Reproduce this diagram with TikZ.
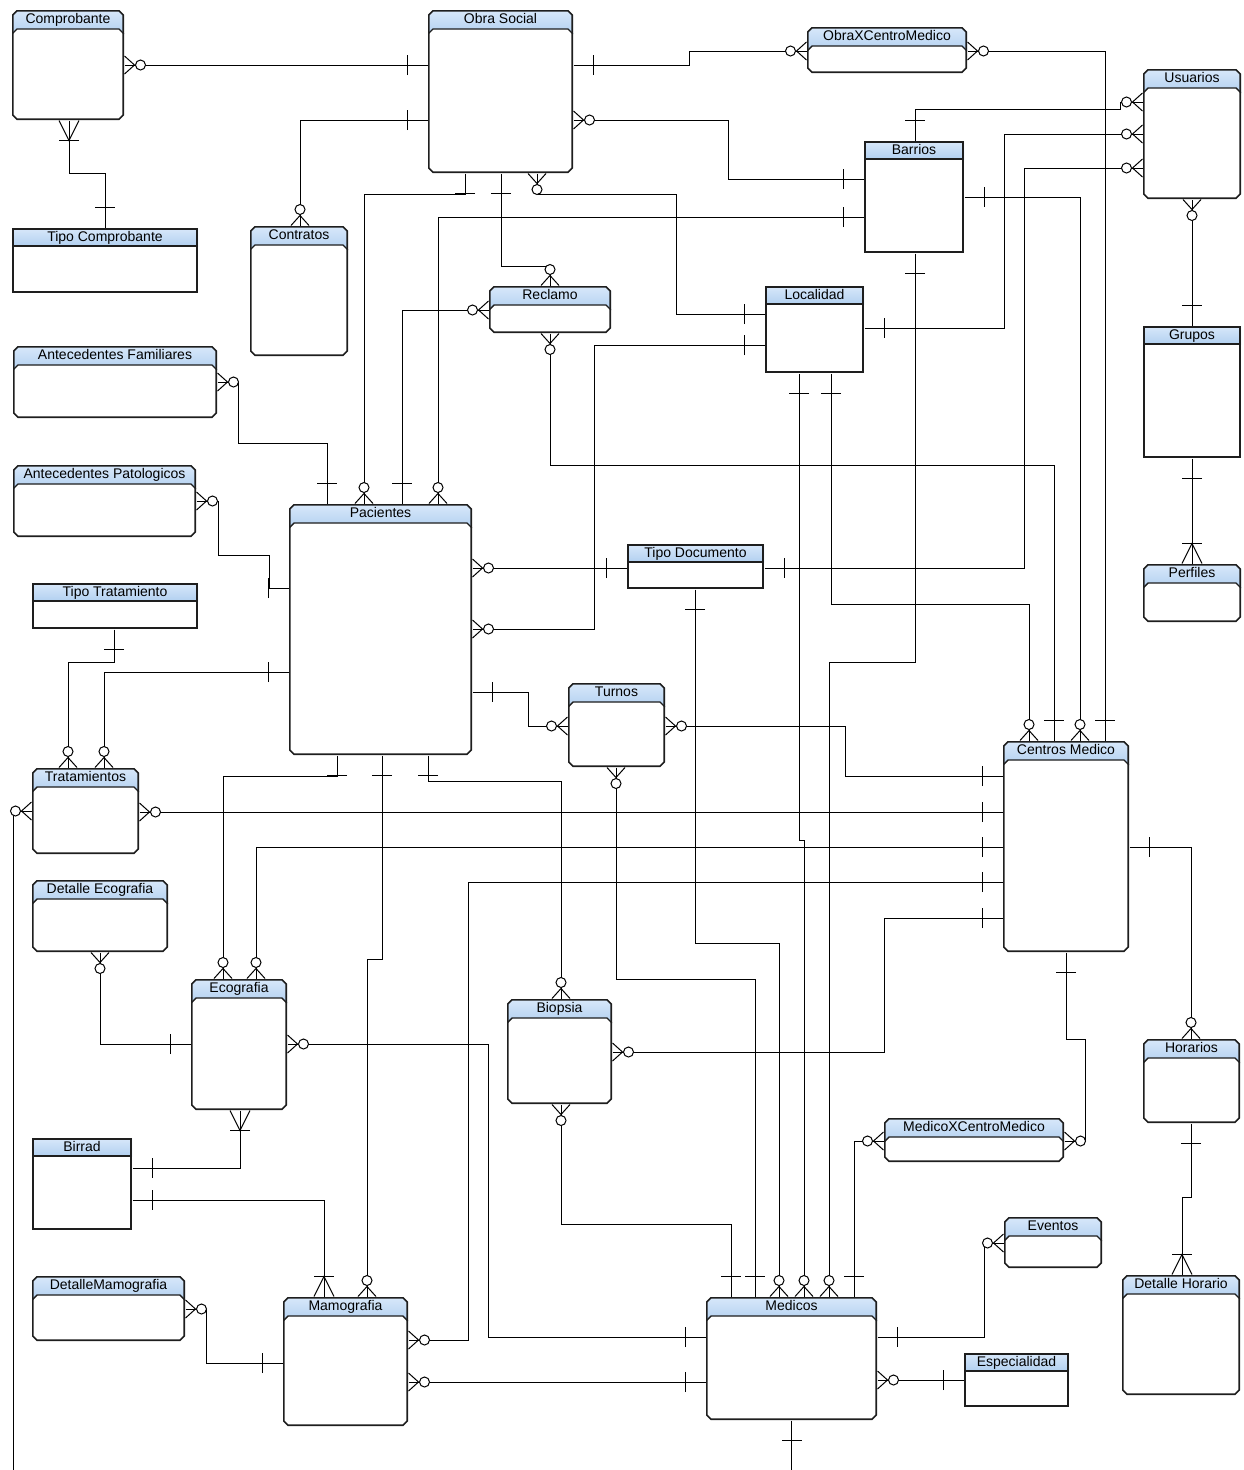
\documentclass[tikz,border=0pt]{standalone}
\usepackage{fontspec}
\setmainfont{Liberation Sans}
\usepackage{tikz}
\definecolor{headtop}{RGB}{216,232,250}
\definecolor{headbot}{RGB}{178,208,240}
\definecolor{edge}{RGB}{30,30,30}

\tikzset{
  wh/.style 2 args={minimum width=#1pt, minimum height=#2pt},
  corners/.style={
    insert path={
      coordinate (pnw) at (path picture bounding box.north west)
      coordinate (pne) at (path picture bounding box.north east)
      coordinate (psw) at (path picture bounding box.south west)
      coordinate (pse) at (path picture bounding box.south east)}},
  rbox/.style={rectangle, inner sep=0pt,
    path picture={
      \path[corners];
      \fill[white] ([xshift=5pt]pnw) -- ([xshift=-5pt]pne) -- ([yshift=-5pt]pne)
        -- ([yshift=5pt]pse) -- ([xshift=-5pt]pse) -- ([xshift=5pt]psw)
        -- ([yshift=5pt]psw) -- ([yshift=-5pt]pnw) -- cycle;
      \shade[top color=headtop, bottom color=headbot]
        ([xshift=5pt]pnw) -- ([xshift=-5pt]pne) -- ([yshift=-5pt]pne)
        -- ([yshift=-24pt]pne) -- ([xshift=-5pt,yshift=-19pt]pne)
        -- ([xshift=5pt,yshift=-19pt]pnw) -- ([yshift=-24pt]pnw)
        -- ([yshift=-5pt]pnw) -- cycle;
      \draw[edge, line width=1.6pt] ([xshift=5pt,yshift=-.8pt]pnw)
        -- ([xshift=-5pt,yshift=-.8pt]pne) -- ([xshift=-.8pt,yshift=-5pt]pne)
        -- ([xshift=-.8pt,yshift=5pt]pse) -- ([xshift=-5pt,yshift=.8pt]pse)
        -- ([xshift=5pt,yshift=.8pt]psw) -- ([xshift=.8pt,yshift=5pt]psw)
        -- ([xshift=.8pt,yshift=-5pt]pnw) -- cycle;
      \draw[edge, line width=1.4pt] ([yshift=-24pt]pnw) -- ([xshift=5pt,yshift=-19pt]pnw)
        -- ([xshift=-5pt,yshift=-19pt]pne) -- ([yshift=-24pt]pne);
    }},
  sbox/.style={rectangle, inner sep=0pt,
    path picture={
      \path[corners];
      \fill[white] (pnw) rectangle (pse);
      \shade[top color=headtop, bottom color=headbot]
        (pnw) rectangle ([yshift=-18pt]pne);
      \draw[edge, line width=1.6pt] ([xshift=.8pt,yshift=-.8pt]pnw)
        rectangle ([xshift=-.8pt,yshift=.8pt]pse);
      \draw[edge, line width=1.4pt] ([yshift=-18pt]pnw) -- ([yshift=-18pt]pne);
    }},
  ttl/.style={anchor=base, yshift=-13.5pt, inner sep=0pt,
    font=\fontsize{14}{16}\selectfont},
  one/.pic={\draw (20,-10) -- (20,10);},
  zmany/.pic={\draw (0,-9) -- (10,0) -- (0,9);
    \draw[fill=white] (16,0) circle[radius=5pt];},
  omany/.pic={\draw (0,-10) -- (20,0) -- (0,10); \draw (20,-10) -- (20,10);}
}

\begin{document}
\begin{tikzpicture}[x=1pt, y=-1pt, line width=1pt]
  \useasboundingbox (0,0) rectangle (1243,1470);

  % Entities, top row
  \node[rbox, wh={112}{110}] (cmp) at (68,65) {};
  \node[ttl] (cmp-t) at (cmp.north) {Comprobante};
  \node[rbox, wh={145}{163}] (obs) at (500.5,91.5) {};
  \node[ttl] (obs-t) at (obs.north) {Obra Social};
  \node[rbox, wh={160}{46}] (oxc) at (887,50) {};
  \node[ttl] (oxc-t) at (oxc.north) {ObraXCentroMedico};
  \node[rbox, wh={98}{130}] (usu) at (1192,134) {};
  \node[ttl] (usu-t) at (usu.north) {Usuarios};
  \node[sbox, wh={100}{112}] (brr) at (914,197) {};
  \node[ttl] (brr-t) at (brr.north) {Barrios};
  \node[sbox, wh={99}{87}] (loc) at (814.5,329.5) {};
  \node[ttl] (loc-t) at (loc.north) {Localidad};
  \node[sbox, wh={186}{65}] (tcp) at (105,260.5) {};
  \node[ttl] (tcp-t) at (tcp.north) {Tipo Comprobante};
  \node[rbox, wh={98}{130}] (con) at (299,291) {};
  \node[ttl] (con-t) at (con.north) {Contratos};
  \node[rbox, wh={122}{47}] (rec) at (550,309.5) {};
  \node[ttl] (rec-t) at (rec.north) {Reclamo};
  \node[sbox, wh={98}{132}] (grp) at (1192,392) {};
  \node[ttl] (grp-t) at (grp.north) {Grupos};

  % Entities, middle
  \node[rbox, wh={204}{72}] (afm) at (115,382) {};
  \node[ttl] (afm-t) at (afm.north) {Antecedentes Familiares};
  \node[rbox, wh={183}{72}] (apt) at (104.5,501) {};
  \node[ttl] (apt-t) at (apt.north) {Antecedentes Patologicos};
  \node[sbox, wh={166}{46}] (ttr) at (115,606) {};
  \node[ttl] (ttr-t) at (ttr.north) {Tipo Tratamiento};
  \node[rbox, wh={183}{251}] (pac) at (380.5,629.5) {};
  \node[ttl] (pac-t) at (pac.north) {Pacientes};
  \node[sbox, wh={137}{45}] (tdo) at (695.5,566.5) {};
  \node[ttl] (tdo-t) at (tdo.north) {Tipo Documento};
  \node[rbox, wh={98}{58}] (prf) at (1192,593) {};
  \node[ttl] (prf-t) at (prf.north) {Perfiles};
  \node[rbox, wh={97}{84}] (tur) at (616.5,725) {};
  \node[ttl] (tur-t) at (tur.north) {Turnos};
  \node[rbox, wh={126}{211}] (cme) at (1066,846.5) {};
  \node[ttl] (cme-t) at (cme.north) {Centros Medico};
  \node[rbox, wh={107}{86}] (tra) at (85.5,811) {};
  \node[ttl] (tra-t) at (tra.north) {Tratamientos};
  \node[rbox, wh={136}{72}] (dec) at (100,916) {};
  \node[ttl] (dec-t) at (dec.north) {Detalle Ecografia};
  \node[rbox, wh={96}{131}] (eco) at (239,1044.5) {};
  \node[ttl] (eco-t) at (eco.north) {Ecografia};
  \node[rbox, wh={105}{105}] (bio) at (559.5,1051.5) {};
  \node[ttl] (bio-t) at (bio.north) {Biopsia};
  \node[rbox, wh={97}{84}] (hor) at (1191.5,1081) {};
  \node[ttl] (hor-t) at (hor.north) {Horarios};

  % Entities, bottom
  \node[rbox, wh={180}{44}] (mxc) at (974,1140) {};
  \node[ttl] (mxc-t) at (mxc.north) {MedicoXCentroMedico};
  \node[sbox, wh={100}{92}] (bir) at (82,1184) {};
  \node[ttl] (bir-t) at (bir.north) {Birrad};
  \node[rbox, wh={153}{65}] (dmm) at (108.5,1308.5) {};
  \node[ttl] (dmm-t) at (dmm.north) {DetalleMamografia};
  \node[rbox, wh={125}{129}] (mam) at (345.5,1361.5) {};
  \node[ttl] (mam-t) at (mam.north) {Mamografia};
  \node[rbox, wh={171}{123}] (med) at (791.5,1358.5) {};
  \node[ttl] (med-t) at (med.north) {Medicos};
  \node[rbox, wh={98}{51}] (evt) at (1053,1242.5) {};
  \node[ttl] (evt-t) at (evt.north) {Eventos};
  \node[sbox, wh={105}{54}] (esp) at (1016.5,1380) {};
  \node[ttl] (esp-t) at (esp.north) {Especialidad};
  \node[rbox, wh={118}{120}] (dho) at (1181,1335) {};
  \node[ttl] (dho-t) at (dho.north) {Detalle Horario};

  \coordinate (tra-off) at (13,1470);
  \coordinate (med-off) at (791.5,1470);

  % Obra Social
  \draw (cmp.east |- 0,65) -- (obs.west |- 0,65);
  \pic at (cmp.east |- 0,65) {zmany};
  \pic[rotate=180] at (obs.west |- 0,65) {one};
  \draw (cmp.south -| 69,0) -- (69,173) -| (tcp.north -| 105,0);
  \pic[rotate=-90] at (cmp.south -| 69,0) {omany};
  \pic[rotate=90] at (tcp.north -| 105,0) {one};
  \draw (obs.west |- 0,120) -| (con.north -| 300,0);
  \pic[rotate=180] at (obs.west |- 0,120) {one};
  \pic[rotate=90] at (con.north -| 300,0) {zmany};
  \draw (obs.east |- 0,65) -- (689,65) |- (oxc.west |- 0,51);
  \pic at (obs.east |- 0,65) {one};
  \pic[rotate=180] at (oxc.west |- 0,51) {zmany};
  \draw (oxc.east |- 0,51) -| (cme.north -| 1105,0);
  \pic at (oxc.east |- 0,51) {zmany};
  \pic[rotate=90] at (cme.north -| 1105,0) {one};
  \draw (obs.east |- 0,120) -- (728,120) |- (brr.west |- 0,179);
  \pic at (obs.east |- 0,120) {zmany};
  \pic[rotate=180] at (brr.west |- 0,179) {one};
  \draw (obs.south -| 465,0) |- (364,194) -- (pac.north -| 364,0);
  \pic[rotate=-90] at (obs.south -| 465,0) {one};
  \pic[rotate=90] at (pac.north -| 364,0) {zmany};
  \draw (obs.south -| 501,0) |- (550,266) -- (rec.north -| 550,0);
  \pic[rotate=-90] at (obs.south -| 501,0) {one};
  \pic[rotate=90] at (rec.north -| 550,0) {zmany};
  \draw (obs.south -| 537,0) |- (676,194) |- (loc.west |- 0,314);
  \pic[rotate=-90] at (obs.south -| 537,0) {zmany};
  \pic[rotate=180] at (loc.west |- 0,314) {one};

  % Barrios, Localidad, Reclamo, Usuarios
  \draw (brr.west |- 0,217) -| (pac.north -| 438,0);
  \pic[rotate=180] at (brr.west |- 0,217) {one};
  \pic[rotate=90] at (pac.north -| 438,0) {zmany};
  \draw (rec.west |- 0,310) -| (pac.north -| 402,0);
  \pic[rotate=180] at (rec.west |- 0,310) {zmany};
  \pic[rotate=90] at (pac.north -| 402,0) {one};
  \draw (rec.south -| 550,0) |- (1054,465) -- (cme.north -| 1054,0);
  \pic[rotate=-90] at (rec.south -| 550,0) {zmany};
  \pic[rotate=90] at (cme.north -| 1054,0) {one};
  \draw (loc.west |- 0,345) -- (594,345) |- (pac.east |- 0,629);
  \pic[rotate=180] at (loc.west |- 0,345) {one};
  \pic at (pac.east |- 0,629) {zmany};
  \draw (loc.east |- 0,328) -- (1004,328) |- (usu.west |- 0,134);
  \pic at (loc.east |- 0,328) {one};
  \pic[rotate=180] at (usu.west |- 0,134) {zmany};
  \draw (loc.south -| 831,0) |- (1029,604) -- (cme.north -| 1029,0);
  \pic[rotate=-90] at (loc.south -| 831,0) {one};
  \pic[rotate=90] at (cme.north -| 1029,0) {zmany};
  \draw (loc.south -| 799,0) -- (799,840) -- (804,840) -- (med.north -| 804,0);
  \pic[rotate=-90] at (loc.south -| 799,0) {one};
  \pic[rotate=90] at (med.north -| 804,0) {zmany};
  \draw (brr.north -| 915,0) |- (1120,109) |- (usu.west |- 0,102);
  \pic[rotate=90] at (brr.north -| 915,0) {one};
  \pic[rotate=180] at (usu.west |- 0,102) {zmany};
  \draw (brr.east |- 0,197) -| (cme.north -| 1080,0);
  \pic at (brr.east |- 0,197) {one};
  \pic[rotate=90] at (cme.north -| 1080,0) {zmany};
  \draw (brr.south -| 915,0) |- (829,662) -- (med.north -| 829,0);
  \pic[rotate=-90] at (brr.south -| 915,0) {one};
  \pic[rotate=90] at (med.north -| 829,0) {zmany};
  \draw (grp.north -| 1192,0) -- (usu.south -| 1192,0);
  \pic[rotate=90] at (grp.north -| 1192,0) {one};
  \pic[rotate=-90] at (usu.south -| 1192,0) {zmany};
  \draw (grp.south -| 1192,0) -- (prf.north -| 1192,0);
  \pic[rotate=-90] at (grp.south -| 1192,0) {one};
  \pic[rotate=90] at (prf.north -| 1192,0) {omany};

  % Tipo Documento
  \draw (tdo.east |- 0,568) -- (1024,568) |- (usu.west |- 0,168);
  \pic at (tdo.east |- 0,568) {one};
  \pic[rotate=180] at (usu.west |- 0,168) {zmany};
  \draw (pac.east |- 0,568) -- (tdo.west |- 0,568);
  \pic at (pac.east |- 0,568) {zmany};
  \pic[rotate=180] at (tdo.west |- 0,568) {one};
  \draw (tdo.south -| 695,0) |- (779,943) -- (med.north -| 779,0);
  \pic[rotate=-90] at (tdo.south -| 695,0) {one};
  \pic[rotate=90] at (med.north -| 779,0) {zmany};

  % Pacientes
  \draw (afm.east |- 0,382) -- (238,382) |- (327,443) -- (pac.north -| 327,0);
  \pic at (afm.east |- 0,382) {zmany};
  \pic[rotate=90] at (pac.north -| 327,0) {one};
  \draw (apt.east |- 0,501) -- (218,501) |- (269,555) |- (pac.west |- 0,588);
  \pic at (apt.east |- 0,501) {zmany};
  \pic[rotate=180] at (pac.west |- 0,588) {one};
  \draw (pac.west |- 0,672) -| (tra.north -| 104,0);
  \pic[rotate=180] at (pac.west |- 0,672) {one};
  \pic[rotate=90] at (tra.north -| 104,0) {zmany};
  \draw (ttr.south -| 114,0) |- (68,662) -- (tra.north -| 68,0);
  \pic[rotate=-90] at (ttr.south -| 114,0) {one};
  \pic[rotate=90] at (tra.north -| 68,0) {zmany};
  \draw (pac.east |- 0,692) -- (528,692) |- (tur.west |- 0,726);
  \pic at (pac.east |- 0,692) {one};
  \pic[rotate=180] at (tur.west |- 0,726) {zmany};
  \draw (pac.south -| 337,0) |- (223,776) -- (eco.north -| 223,0);
  \pic[rotate=-90] at (pac.south -| 337,0) {one};
  \pic[rotate=90] at (eco.north -| 223,0) {zmany};
  \draw (pac.south -| 382,0) |- (367,959) -- (mam.north -| 367,0);
  \pic[rotate=-90] at (pac.south -| 382,0) {one};
  \pic[rotate=90] at (mam.north -| 367,0) {zmany};
  \draw (pac.south -| 428,0) |- (561,781) -- (bio.north -| 561,0);
  \pic[rotate=-90] at (pac.south -| 428,0) {one};
  \pic[rotate=90] at (bio.north -| 561,0) {zmany};

  % Centros Medico
  \draw (tur.east |- 0,726) -- (845,726) |- (cme.west |- 0,776);
  \pic at (tur.east |- 0,726) {zmany};
  \pic[rotate=180] at (cme.west |- 0,776) {one};
  \draw (tra.east |- 0,812) -- (cme.west |- 0,812);
  \pic at (tra.east |- 0,812) {zmany};
  \pic[rotate=180] at (cme.west |- 0,812) {one};
  \draw (eco.north -| 256,0) |- (cme.west |- 0,847);
  \pic[rotate=90] at (eco.north -| 256,0) {zmany};
  \pic[rotate=180] at (cme.west |- 0,847) {one};
  \draw (mam.east |- 0,1340) -- (468,1340) |- (cme.west |- 0,882);
  \pic at (mam.east |- 0,1340) {zmany};
  \pic[rotate=180] at (cme.west |- 0,882) {one};
  \draw (bio.east |- 0,1052) -- (884,1052) |- (cme.west |- 0,918);
  \pic at (bio.east |- 0,1052) {zmany};
  \pic[rotate=180] at (cme.west |- 0,918) {one};
  \draw (cme.east |- 0,847) -| (hor.north -| 1191,0);
  \pic at (cme.east |- 0,847) {one};
  \pic[rotate=90] at (hor.north -| 1191,0) {zmany};
  \draw (cme.south -| 1066,0) |- (1085,1039) |- (mxc.east |- 0,1141);
  \pic[rotate=-90] at (cme.south -| 1066,0) {one};
  \pic at (mxc.east |- 0,1141) {zmany};
  \draw (hor.south -| 1191,0) |- (1182,1197) -- (dho.north -| 1182,0);
  \pic[rotate=-90] at (hor.south -| 1191,0) {one};
  \pic[rotate=90] at (dho.north -| 1182,0) {omany};

  % Ecografia, Mamografia, Medicos
  \draw (eco.east |- 0,1044) -- (488,1044) |- (med.west |- 0,1337);
  \pic at (eco.east |- 0,1044) {zmany};
  \pic[rotate=180] at (med.west |- 0,1337) {one};
  \draw (dec.south -| 100,0) |- (eco.west |- 0,1044);
  \pic[rotate=-90] at (dec.south -| 100,0) {zmany};
  \pic[rotate=180] at (eco.west |- 0,1044) {one};
  \draw (eco.south -| 240,0) |- (bir.east |- 0,1168);
  \pic[rotate=-90] at (eco.south -| 240,0) {omany};
  \pic at (bir.east |- 0,1168) {one};
  \draw (bir.east |- 0,1200) -| (mam.north -| 324,0);
  \pic at (bir.east |- 0,1200) {one};
  \pic[rotate=90] at (mam.north -| 324,0) {omany};
  \draw (dmm.east |- 0,1309) -- (206,1309) |- (mam.west |- 0,1363);
  \pic at (dmm.east |- 0,1309) {zmany};
  \pic[rotate=180] at (mam.west |- 0,1363) {one};
  \draw (mam.east |- 0,1382) -- (med.west |- 0,1382);
  \pic at (mam.east |- 0,1382) {zmany};
  \pic[rotate=180] at (med.west |- 0,1382) {one};
  \draw (bio.south -| 561,0) |- (731,1224) -- (med.north -| 731,0);
  \pic[rotate=-90] at (bio.south -| 561,0) {zmany};
  \pic[rotate=90] at (med.north -| 731,0) {one};
  \draw (tur.south -| 616,0) |- (755,979) -- (med.north -| 755,0);
  \pic[rotate=-90] at (tur.south -| 616,0) {zmany};
  \pic[rotate=90] at (med.north -| 755,0) {one};
  \draw (mxc.west |- 0,1141) -| (med.north -| 854,0);
  \pic[rotate=180] at (mxc.west |- 0,1141) {zmany};
  \pic[rotate=90] at (med.north -| 854,0) {one};
  \draw (med.east |- 0,1337) -- (984,1337) |- (evt.west |- 0,1243);
  \pic at (med.east |- 0,1337) {one};
  \pic[rotate=180] at (evt.west |- 0,1243) {zmany};
  \draw (med.east |- 0,1380) -- (esp.west |- 0,1380);
  \pic at (med.east |- 0,1380) {zmany};
  \pic[rotate=180] at (esp.west |- 0,1380) {one};

  % Open ends at the bottom edge
  \draw (tra.west |- 0,811) -- (tra-off |- 0,811) -- (tra-off);
  \pic[rotate=180] at (tra.west |- 0,811) {zmany};
  \draw (med.south) -- (med-off);
  \pic[rotate=-90] at (med.south) {one};
\end{tikzpicture}
\end{document}
